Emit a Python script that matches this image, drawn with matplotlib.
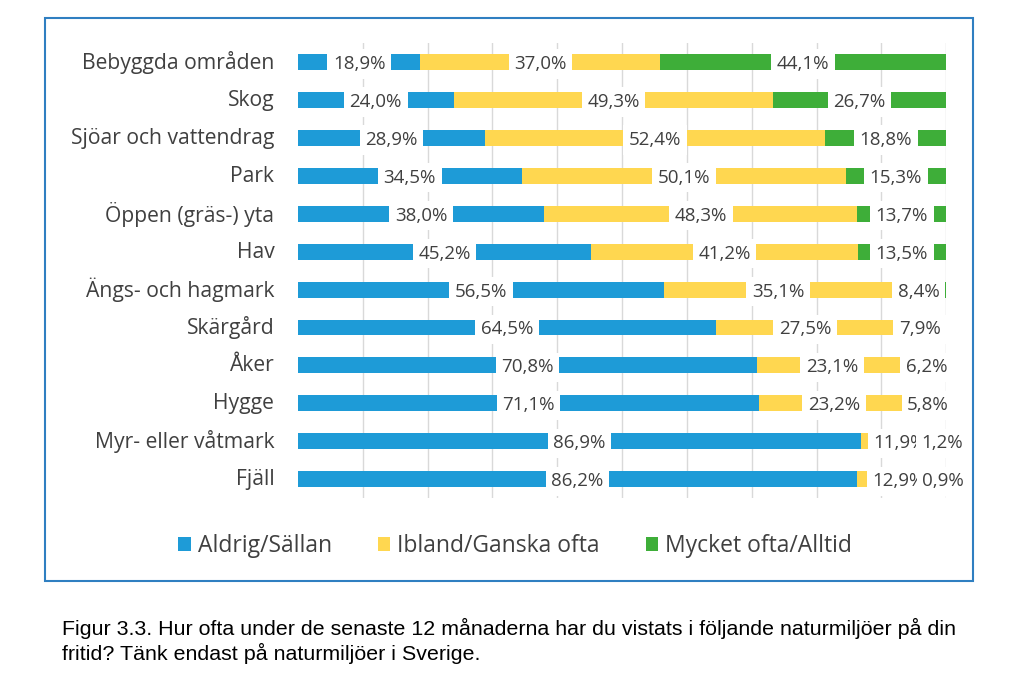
import numpy as np
import matplotlib.pyplot as plt
from matplotlib.patches import Rectangle
from matplotlib.transforms import ScaledTranslation

categories = ["Bebyggda områden", "Skog", "Sjöar och vattendrag", "Park",
              "Öppen (gräs-) yta", "Hav", "Ängs- och hagmark", "Skärgård",
              "Åker", "Hygge", "Myr- eller våtmark", "Fjäll"]
aldrig = [18.9, 24.0, 28.9, 34.5, 38.0, 45.2, 56.5, 64.5, 70.8, 71.1, 86.9, 86.2]
ibland = [37.0, 49.3, 52.4, 50.1, 48.3, 41.2, 35.1, 27.5, 23.1, 23.2, 11.9, 12.9]
ofta = [44.1, 26.7, 18.8, 15.3, 13.7, 13.5, 8.4, 7.9, 6.2, 5.8, 1.2, 0.9]
series_names = ["Aldrig/Sällan", "Ibland/Ganska ofta", "Mycket ofta/Alltid"]
colors = ["#1E9BD7", "#FFD750", "#3EAE39"]
caption = ("Figur 3.3. Hur ofta under de senaste 12 månaderna har du vistats i följande naturmiljöer på din\n"
           "fritid? Tänk endast på naturmiljöer i Sverige.")

plt.rcParams['font.family'] = ['Open Sans', 'DejaVu Sans']

fig = plt.figure(figsize=(10.24, 6.74), dpi=100)
ax = fig.add_axes([0.291, 0.261, 0.633, 0.675])

y = np.arange(len(categories))
left = np.zeros(len(categories))
for vals, col, name in zip([aldrig, ibland, ofta], colors, series_names):
    vals = np.array(vals)
    ax.barh(y, vals, left=left, height=0.42, color=col, label=name, zorder=2)
    for yi, l, v in zip(y, left, vals):
        ax.text(l + v / 2, yi, f"{v:.1f}%".replace(".", ","), ha="center",
                va="center_baseline", fontsize=13.5, color="#404040", zorder=3,
                clip_on=False,
                bbox=dict(boxstyle="square,pad=0.3", fc="white", ec="none"))
    left += vals

ax.set_xlim(0, 100)
ax.set_ylim(len(categories) - 0.5, -0.5)
ax.set_xticks(np.arange(10, 101, 10))
ax.xaxis.grid(True, color="#D9D9D9", lw=1, zorder=0)
ax.set_axisbelow(True)
ax.tick_params(axis="x", length=0, labelbottom=False)
ax.set_yticks([])
for s in ax.spines.values():
    s.set_visible(False)

# category labels, right aligned left of the bars
lab_tr = ax.get_yaxis_transform() + ScaledTranslation(-17 / 72, 1.5 / 72, fig.dpi_scale_trans)
for yi, cat in zip(y, categories):
    ax.text(0, yi, cat, transform=lab_tr, ha="right", va="center_baseline",
            fontsize=15.2, color="#404040")

handles, labels = ax.get_legend_handles_labels()
fig.legend(handles, labels, loc="center", bbox_to_anchor=(0.503, 1 - 546 / 674), ncol=3,
           frameon=False, fontsize=16.5, handlelength=0.55, handleheight=0.55,
           handletextpad=0.3, columnspacing=2.0, labelcolor="#404040")

fig.patches.append(Rectangle((45 / 1024, 1 - 581 / 674), 928 / 1024, 563 / 674,
                             transform=fig.transFigure, fill=False,
                             ec="#2F7FC1", lw=1.5))

fig.text(62 / 1024, 1 - 641 / 674, caption, fontsize=15.4, linespacing=1.25,
         family=["Liberation Sans", "DejaVu Sans"],
         va="center", ha="left", color="black")

fig.savefig("out.png", dpi=100)
